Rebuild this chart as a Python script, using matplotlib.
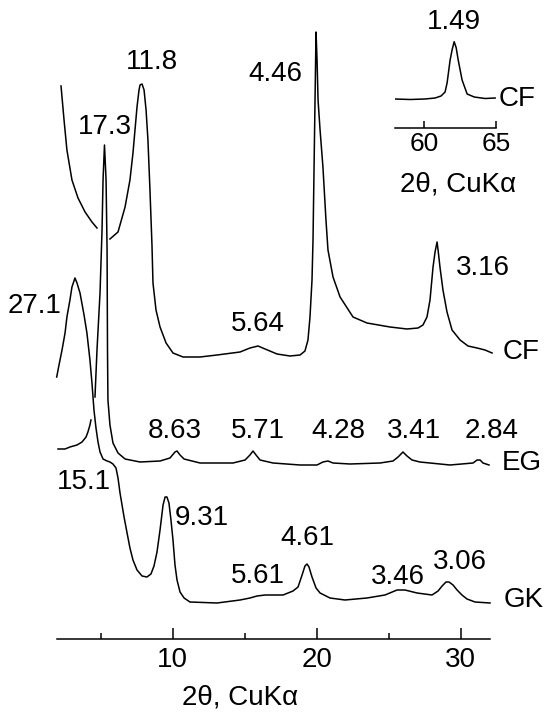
import numpy as np
import matplotlib
matplotlib.use("Agg")
import matplotlib.pyplot as plt

plt.rcParams['font.family'] = ['Liberation Sans', 'DejaVu Sans']

# CF trace (2theta, intensity), broken where the EG peak crosses
cf_tt = [2.24, 2.45, 2.65, 3.00, 3.42, 3.91, 4.39, 4.74, np.nan,
         5.64, 6.20, 6.69, 7.03, 7.24, 7.52, 7.66, 7.73, 7.87, 8.01, 8.15, 8.28, 8.42, 8.56, 8.63,
         8.84, 9.12, 9.54, 10.02, 10.72, 11.90, 13.08, 14.68, 15.37, 15.93, 16.42, 17.25, 18.15,
         18.85, 19.19, 19.40, 19.54, 19.68, 19.75, 19.82, 19.89, 19.96, 20.03, 20.10, 20.24,
         20.44, 20.65, 20.79, 21.14, 21.63, 22.53, 23.50, 25.10, 26.28, 27.05, 27.39, 27.67,
         27.88, 28.09, 28.23, 28.37, 28.44, 28.58, 28.78, 29.06, 29.41, 29.97, 30.52, 31.15,
         31.70, 32.19]
cf_int = [553, 519, 489, 459, 441, 427, 417, 411, np.nan,
          400, 407, 432, 459, 486, 532, 549, 554, 555, 549, 529, 499, 449, 394, 356,
          329, 312, 296, 286, 282, 282, 284, 287, 291, 293, 290, 285, 283,
          284, 288, 299, 322, 359, 399, 469, 539, 607, 579, 539, 509,
          472, 419, 389, 362, 342, 322, 316, 312, 310, 311, 314, 322,
          339, 372, 387, 397, 389, 371, 349, 327, 309, 299, 293, 291,
          289, 286]

# EG trace, broken where the GK curve crosses
eg_tt = [2.03, 2.52, 2.86, 3.35, 3.70, 3.98, 4.11, 4.25, 4.32, np.nan,
         4.60, 4.74, 4.95, 5.09, 5.16, 5.26, 5.37, 5.44, 5.47, 5.50, 5.64, 5.85, 6.20, 6.69,
         7.73, 9.12, 9.81, 10.16, 10.30, 10.51, 10.79, 11.90, 14.19, 15.03, 15.37, 15.58, 15.79,
         16.07, 16.97, 18.85, 20.03, 20.44, 20.79, 21.14, 22.32, 24.41, 25.31, 25.66, 26.00,
         26.28, 26.63, 27.18, 29.27, 30.87, 31.15, 31.36, 31.56, 31.98]
eg_int = [190, 190, 192, 194, 197, 202, 207, 214, 219, np.nan,
          242, 289, 346, 409, 459, 494, 459, 389, 289, 239, 214, 196, 186, 180,
          177, 178, 181, 187, 188, 184, 180, 176, 176, 179, 184, 188, 184,
          179, 176, 174, 174, 177, 178, 176, 175, 176, 178, 182, 187,
          183, 179, 177, 174, 176, 179, 179, 176, 174]

# GK trace
gk_tt = [1.94, 2.10, 2.31, 2.52, 2.65, 2.86, 3.00, 3.21, 3.35, 3.56, 3.84, 4.04, 4.25, 4.39,
         4.53, 4.67, 4.81, 4.95, 5.16, 5.44, 5.64, 5.85, 6.06, 6.20, 6.34, 6.62, 6.83, 7.03,
         7.24, 7.52, 7.87, 8.21, 8.49, 8.70, 8.91, 9.12, 9.33, 9.47, 9.60, 9.74, 9.88, 10.02,
         10.16, 10.30, 10.51, 10.79, 11.20, 13.08, 14.68, 15.37, 15.86, 16.42, 17.67, 18.36,
         18.71, 18.99, 19.19, 19.33, 19.47, 19.68, 19.96, 20.24, 20.93, 21.97, 23.50, 24.75,
         25.59, 26.14, 26.98, 28.02, 28.44, 28.72, 28.99, 29.20, 29.48, 29.76, 30.10, 30.45,
         31.01, 32.05]
gk_int = [262, 274, 289, 306, 322, 339, 352, 361, 356, 346, 324, 306, 279, 256,
          229, 211, 197, 187, 180, 178, 177, 175, 171, 161, 146, 122, 106, 91,
          79, 69, 63, 62, 65, 73, 87, 109, 134, 142, 142, 136, 119, 99,
          74, 59, 47, 41, 37, 36, 39, 41, 43, 44, 44, 48,
          52, 64, 73, 75, 72, 62, 51, 46, 41, 39, 41, 44,
          49, 49, 46, 44, 48, 53, 57, 57, 54, 49, 44, 40,
          37, 36]

# inset: CF high-angle reflection
ins_tt = [58.0, 59.04, 60.08, 60.78, 61.19, 61.47, 61.61, 61.82, 61.96, 62.10, 62.24,
          62.38, 62.65, 63.00, 63.49, 64.25, 64.94]
ins_int = [28.7, 28.2, 28.7, 29.7, 31.7, 35.7, 44.7, 67.7, 78.0, 86.0, 80.0,
           67.7, 47.7, 33.7, 30.7, 29.2, 29.7]

# d-spacing labels (text, 2theta, intensity)
peak_labels = [
    ("11.8", 8.56, 577), ("17.3", 5.30, 512), ("4.46", 17.11, 565), ("27.1", 0.43, 333),
    ("5.64", 15.93, 315), ("3.16", 31.56, 371), ("8.63", 10.16, 208), ("5.71", 15.93, 208),
    ("4.28", 21.49, 208), ("3.41", 26.77, 208), ("2.84", 32.19, 208), ("15.1", 3.84, 157),
    ("9.31", 12.04, 121), ("5.61", 15.93, 63), ("4.61", 19.33, 101), ("3.46", 25.66, 62),
    ("3.06", 29.97, 77),
]
curve_names = [("CF", 32.95, 287), ("EG", 32.88, 176), ("GK", 33.02, 39)]

fs = 20
lw = 1.1

fig = plt.figure(figsize=(5.45, 7.12), dpi=100)
ax = fig.add_axes([0, 73 / 712, 1, 639 / 712])
ax.plot(cf_tt, cf_int, color='black', lw=lw)
ax.plot(eg_tt, eg_int, color='black', lw=lw)
ax.plot(gk_tt, gk_int, color='black', lw=lw)
ax.set_xlim(-2.0, 35.87)
ax.set_ylim(0, 639)
for s in ['top', 'left', 'right']:
    ax.spines[s].set_visible(False)
ax.spines['bottom'].set_bounds(1.98, 32.05)
ax.spines['bottom'].set_linewidth(1.1)
ax.set_yticks([])
ax.set_xticks([10, 20, 30])
ax.set_xticks([5, 15, 25], minor=True)
ax.tick_params(axis='x', which='major', direction='in', length=8, width=1.1,
               labelsize=fs, pad=6)
ax.tick_params(axis='x', which='minor', direction='in', length=4.3, width=1.1)
ax.patch.set_visible(False)
ax.text(14.69, -65, "2θ, CuKα", fontsize=fs, ha='center', va='baseline')

for txt, x, y in peak_labels:
    ax.text(x, y, txt, fontsize=fs, ha='center', va='center')
for txt, x, y in curve_names:
    ax.text(x, y, txt, fontsize=fs, ha='left', va='center')

# inset
axi = fig.add_axes([395 / 545, (712 - 127.7) / 712, 101 / 545, 127.7 / 712])
axi.plot(ins_tt, ins_int, color='black', lw=lw)
axi.set_xlim(58, 65)
axi.set_ylim(0, 127.7)
for s in ['top', 'left', 'right']:
    axi.spines[s].set_visible(False)
axi.spines['bottom'].set_linewidth(1.1)
axi.set_yticks([])
axi.set_xticks([60, 65])
axi.tick_params(axis='x', direction='in', length=5, width=1.1, labelsize=fs - 1, pad=3)
axi.patch.set_visible(False)
axi.text(62.1, 105.7, "1.49", fontsize=fs, ha='center', va='center')
axi.text(65.15, 28.7, "CF", fontsize=fs, ha='left', va='center')
axi.text(62.4, -57, "2θ, CuKα", fontsize=fs, ha='center', va='center')

fig.savefig("out.png", dpi=100)
